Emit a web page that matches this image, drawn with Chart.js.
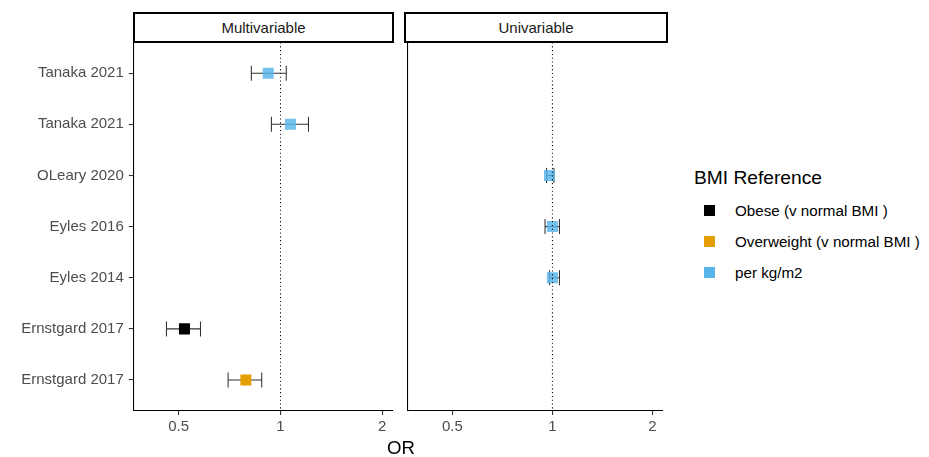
<!DOCTYPE html>
<html>
<head>
<meta charset="utf-8">
<script src="https://cdn.jsdelivr.net/npm/chart.js@4"></script>
<style>
  html, body { margin: 0; padding: 0; background: #fff; }
  body { width: 929px; height: 457px; position: relative; overflow: hidden;
         font-family: "Liberation Sans", Arial, sans-serif; }
  canvas { position: absolute; top: 0; }
  .strip { position: absolute; box-sizing: border-box; border: 2px solid #000;
           background: #fff; color: #1A1A1A; font-size: 15px;
           display: flex; align-items: center; justify-content: center; }
  .xtitle { position: absolute; font-size: 18.6px; color: #000; line-height: 1; }
  .legend { position: absolute; left: 694px; top: 167px; color: #000; }
  .legend .ttl { font-size: 19.2px; line-height: 22px; margin-bottom: 11px; }
  .legend .item { position: relative; height: 31px; }
  .legend .key { position: absolute; left: 10px; top: 5px; width: 11px; height: 11px; }
  .legend .lab { position: absolute; left: 41px; top: 2px; font-size: 15.2px; line-height: 17px; white-space: nowrap; }
</style>
</head>
<body>
<canvas id="left" width="400" height="457" style="left:0px;width:400px;height:457px"></canvas>
<canvas id="right" width="270" height="457" style="left:400px;width:270px;height:457px"></canvas>
<div class="strip" style="left:133px;top:12px;width:261px;height:31px">Multivariable</div>
<div class="strip" style="left:404px;top:12px;width:264px;height:31px">Univariable</div>
<div class="xtitle" style="left:387px;top:439px">OR</div>
<div class="legend" id="legend"></div>
<script>
// ---- data ----
const studies = ["Tanaka 2021", "Tanaka 2021", "OLeary 2020", "Eyles 2016", "Eyles 2014", "Ernstgard 2017", "Ernstgard 2017"];
const models  = ["Multivariable", "Multivariable", "Univariable", "Univariable", "Univariable", "Multivariable", "Multivariable"];
const groups  = ["per kg/m2", "per kg/m2", "per kg/m2", "per kg/m2", "per kg/m2", "Obese (v normal BMI )", "Overweight (v normal BMI )"];
const orValues = [0.92, 1.07, 0.98, 1.00, 1.00, 0.52, 0.79];
const ciLow    = [0.82, 0.94, 0.96, 0.95, 0.98, 0.46, 0.70];
const ciHigh   = [1.04, 1.21, 1.01, 1.05, 1.05, 0.58, 0.88];
const groupNames = ["Obese (v normal BMI )", "Overweight (v normal BMI )", "per kg/m2"];
const groupColors = ["#000000", "#E69F00", "#56B4E9"];
const xTickValues = [0.5, 1, 2];
const xTickLabels = ["0.5", "1", "2"];
const refLine = 1;

const FONT = "'Liberation Sans', Arial, sans-serif";
const X_MIN = 0.367, X_MAX = 2.14, Y_MIN = -0.6, Y_MAX = 6.6;

const errorBars = {
  id: 'errorBars',
  beforeDatasetsDraw(chart) {
    const ctx = chart.ctx, xs = chart.scales.x, ys = chart.scales.y;
    ctx.save();
    ctx.strokeStyle = '#333333';
    ctx.lineWidth = 1.07;
    chart.data.datasets.forEach(ds => {
      if (!ds.isSeries) return;
      ds.data.forEach(d => {
        const y = ys.getPixelForValue(d.y);
        const a = xs.getPixelForValue(d.lo), b = xs.getPixelForValue(d.hi);
        ctx.beginPath();
        ctx.moveTo(a, y); ctx.lineTo(b, y);
        ctx.moveTo(a, y - 7.5); ctx.lineTo(a, y + 7.5);
        ctx.moveTo(b, y - 7.5); ctx.lineTo(b, y + 7.5);
        ctx.stroke();
      });
    });
    ctx.restore();
  }
};

function buildDatasets(model) {
  const sets = groupNames.map((g, gi) => {
    const data = [];
    studies.forEach((s, i) => {
      if (models[i] === model && groups[i] === g) {
        data.push({ x: orValues[i], y: i, lo: ciLow[i], hi: ciHigh[i] });
      }
    });
    const col = groupColors[gi];
    const fill = gi === 2 ? 'rgba(86,180,233,0.82)' : col;
    return {
      type: 'scatter', label: g, data, isSeries: true, order: 1,
      pointStyle: 'rect', pointRadius: 7.8, pointHoverRadius: 7.8,
      backgroundColor: fill, borderColor: fill, borderWidth: 0
    };
  });
  sets.push({
    type: 'line', label: 'ref', order: 0,
    data: [{ x: refLine, y: Y_MIN }, { x: refLine, y: Y_MAX }],
    borderColor: '#000', borderWidth: 1.07, borderDash: [1.1, 2.7],
    pointRadius: 0, fill: false
  });
  return sets;
}

function makeChart(id, model, showY, yWidth, rightPad) {
  return new Chart(document.getElementById(id), {
    type: 'scatter',
    data: { datasets: buildDatasets(model) },
    plugins: [errorBars],
    options: {
      responsive: false, animation: false, devicePixelRatio: 1,
      layout: { padding: { top: 42.5, right: rightPad, bottom: 0, left: 0 } },
      plugins: { legend: { display: false }, tooltip: { enabled: false } },
      scales: {
        x: {
          type: 'logarithmic', min: X_MIN, max: X_MAX,
          afterBuildTicks: s => { s.ticks = xTickValues.map(v => ({ value: v })); },
          afterFit: s => { s.height = 46.3; },
          ticks: {
            autoSkip: false, maxRotation: 0, padding: 3,
            color: '#4D4D4D', font: { family: FONT, size: 15 },
            callback: (v, i) => xTickLabels[i]
          },
          grid: { display: true, drawOnChartArea: false, drawTicks: true, tickLength: 4.3, color: '#333333', lineWidth: 1.07 },
          border: { display: true, color: '#000', width: 1.07 }
        },
        y: {
          type: 'linear', reverse: true, min: Y_MIN, max: Y_MAX,
          afterBuildTicks: s => { s.ticks = studies.map((_, i) => ({ value: i })); },
          afterFit: s => { s.width = yWidth; },
          ticks: {
            display: showY, autoSkip: false, padding: 5,
            color: '#4D4D4D', font: { family: FONT, size: 15 },
            callback: v => studies[v]
          },
          grid: { display: showY, drawOnChartArea: false, drawTicks: showY, tickLength: 4.5, color: '#333333', lineWidth: 1.07 },
          border: { display: true, color: '#000', width: 1.07 }
        }
      }
    }
  });
}

makeChart('left', 'Multivariable', true, 133.3, 6.7);
makeChart('right', 'Univariable', false, 4.3, 5);

// legend (HTML text)
const lg = document.getElementById('legend');
lg.innerHTML = '<div class="ttl">BMI Reference</div>' + groupNames.map((g, i) =>
  '<div class="item"><div class="key" style="background:' + groupColors[i] + '"></div><div class="lab">' + g + '</div></div>'
).join('');
</script>
</body>
</html>
